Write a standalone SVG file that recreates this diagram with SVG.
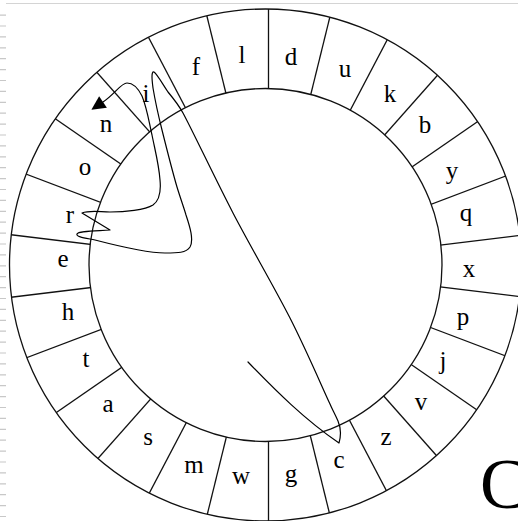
<svg xmlns="http://www.w3.org/2000/svg" width="518" height="521" viewBox="0 0 518 521">
<style>
.ring{fill:none;stroke:#111;stroke-width:1.3}
.div line{stroke:#111;stroke-width:1.3}
.lbl{font-family:"Liberation Serif","Times New Roman",serif;font-size:25px;text-anchor:middle;fill:#000}
.curve{fill:none;stroke:#000;stroke-width:1.2;stroke-linejoin:round;stroke-linecap:round}
</style>
<defs>
<clipPath id="ringClip"><path clip-rule="evenodd" d="M9.5,265 a256,256 0 1,0 512,0 a256,256 0 1,0 -512,0 Z M89,265 a176.5,176.5 0 1,0 353,0 a176.5,176.5 0 1,0 -353,0 Z"/></clipPath>
<marker id="arrow" markerUnits="userSpaceOnUse" viewBox="-1 -8 17 16" markerWidth="17" markerHeight="16" refX="0" refY="0" orient="auto" overflow="visible">
<path d="M0,-7 L14,0 L0,7 Z" fill="#000"/>
</marker>
</defs>
<rect width="518" height="521" fill="#fff"/>
<g id="frame">
<line x1="6" y1="3.5" x2="518" y2="3.5" stroke="#d4d4d4" stroke-width="1"/>
<line x1="3" y1="14.5" x2="3" y2="521" stroke="#c8c8c8" stroke-width="6" stroke-dasharray="1.2 9.7"/>
</g>
<g id="ring">
<circle class="ring" cx="265.5" cy="265" r="256"/>
<circle class="ring" cx="265.5" cy="265" r="176.5"/>
</g>
<g id="dividers" class="div" clip-path="url(#ringClip)">
<g transform="translate(268.5,266)">
<line x2="0" y2="-300" transform="rotate(0)"/>
<line x2="0" y2="-300" transform="rotate(13.846)"/>
<line x2="0" y2="-300" transform="rotate(27.692)"/>
<line x2="0" y2="-300" transform="rotate(41.538)"/>
<line x2="0" y2="-300" transform="rotate(55.385)"/>
<line x2="0" y2="-300" transform="rotate(69.231)"/>
<line x2="0" y2="-300" transform="rotate(83.077)"/>
<line x2="0" y2="-300" transform="rotate(96.923)"/>
<line x2="0" y2="-300" transform="rotate(110.769)"/>
<line x2="0" y2="-300" transform="rotate(124.615)"/>
<line x2="0" y2="-300" transform="rotate(138.462)"/>
<line x2="0" y2="-300" transform="rotate(152.308)"/>
<line x2="0" y2="-300" transform="rotate(166.154)"/>
<line x2="0" y2="-300" transform="rotate(180)"/>
<line x2="0" y2="-300" transform="rotate(193.846)"/>
<line x2="0" y2="-300" transform="rotate(207.692)"/>
<line x2="0" y2="-300" transform="rotate(221.538)"/>
<line x2="0" y2="-300" transform="rotate(235.385)"/>
<line x2="0" y2="-300" transform="rotate(249.231)"/>
<line x2="0" y2="-300" transform="rotate(263.077)"/>
<line x2="0" y2="-300" transform="rotate(276.923)"/>
<line x2="0" y2="-300" transform="rotate(290.769)"/>
<line x2="0" y2="-300" transform="rotate(304.615)"/>
<line x2="0" y2="-300" transform="rotate(318.462)"/>
<line x2="0" y2="-300" transform="rotate(332.308)"/>
<line x2="0" y2="-300" transform="rotate(346.154)"/>
</g>
</g>
<g id="seg-f"><text class="lbl" x="196" y="75">f</text></g>
<g id="seg-l"><text class="lbl" x="242" y="63">l</text></g>
<g id="seg-d"><text class="lbl" x="291" y="65">d</text></g>
<g id="seg-u"><text class="lbl" x="345" y="77">u</text></g>
<g id="seg-k"><text class="lbl" x="390" y="102">k</text></g>
<g id="seg-b"><text class="lbl" x="425" y="133">b</text></g>
<g id="seg-y"><text class="lbl" x="452" y="179">y</text></g>
<g id="seg-q"><text class="lbl" x="466" y="221">q</text></g>
<g id="seg-x"><text class="lbl" x="469" y="277">x</text></g>
<g id="seg-p"><text class="lbl" x="463" y="325">p</text></g>
<g id="seg-j"><text class="lbl" x="443" y="369">j</text></g>
<g id="seg-v"><text class="lbl" x="421" y="410">v</text></g>
<g id="seg-z"><text class="lbl" x="386" y="445">z</text></g>
<g id="seg-c"><text class="lbl" x="339" y="468">c</text></g>
<g id="seg-g"><text class="lbl" x="291" y="482">g</text></g>
<g id="seg-w"><text class="lbl" x="241" y="484">w</text></g>
<g id="seg-m"><text class="lbl" x="194" y="473">m</text></g>
<g id="seg-s"><text class="lbl" x="148" y="445">s</text></g>
<g id="seg-a"><text class="lbl" x="108" y="412">a</text></g>
<g id="seg-t"><text class="lbl" x="86" y="367">t</text></g>
<g id="seg-h"><text class="lbl" x="68" y="320">h</text></g>
<g id="seg-e"><text class="lbl" x="63" y="267">e</text></g>
<g id="seg-r"><text class="lbl" x="70" y="223">r</text></g>
<g id="seg-o"><text class="lbl" x="85" y="175">o</text></g>
<g id="seg-n"><text class="lbl" x="106" y="132">n</text></g>
<g id="seg-i"><text class="lbl" x="146" y="102">i</text></g>
<g id="connectors">
<path class="curve" marker-end="url(#arrow)" d="M248,362 C275,390 305,420 339,443 C341,436 341,428 338,421 C335,414 332,409 330,404 C322,386.8 306.2,349.8 290,318 C273.8,286.2 250.8,247.2 233,213 C215.2,178.8 193.8,133.2 183,113 C178,104 173,98 168,92 C162,83 157,74 154,72 C151,71 152,80 153,88 C155,100 159,118 162,130 C166,146 172,170 177,187 C181,200 184,208 186,215 C190,227 194,240 190,247 C186,253 178,253 165,253 C150,253 122,247 95,240 C85,238 76,237 77,234 C78,231 95,231 110,230 L82,213 C90,210 100,212 110,212 C125,212 145,210 153,205 C160,200 161,190 160,180 C159,165 155,150 152,135 C149,122 147,108 142,96 C138,88 133,83 127,83 C121,83 115,94 103,102"/>
</g>
<text x="480" y="508" font-family="Liberation Serif,'Times New Roman',serif" font-size="71" fill="#000">C</text>
</svg>
